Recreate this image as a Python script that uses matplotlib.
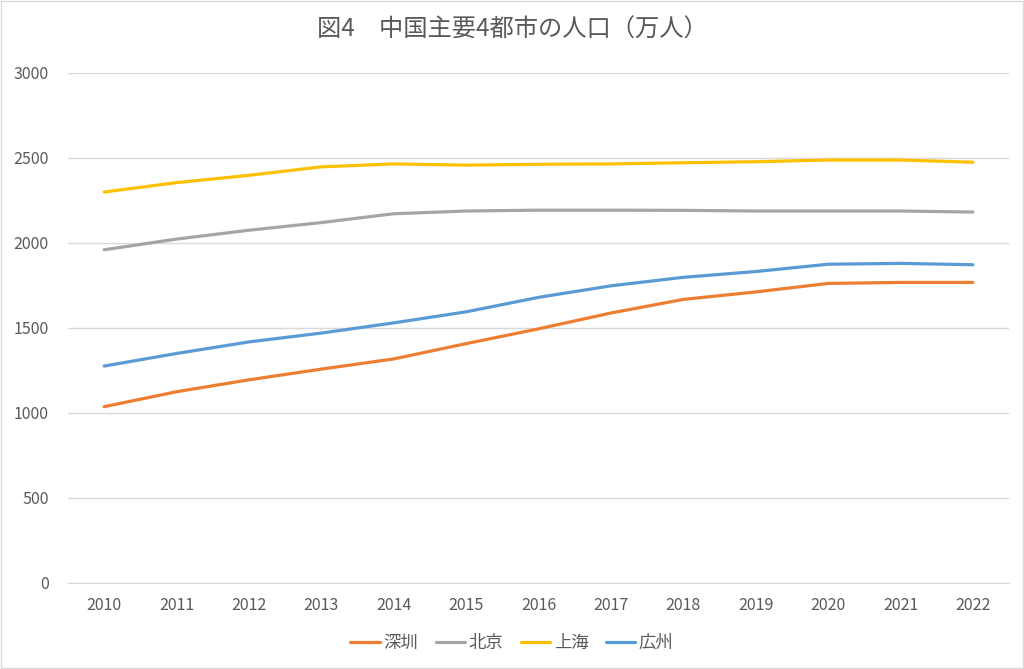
import matplotlib.pyplot as plt
from matplotlib.patches import Rectangle

plt.rcParams['font.family'] = ['Noto Sans CJK JP', 'DejaVu Sans']

years = [2010, 2011, 2012, 2013, 2014, 2015, 2016, 2017, 2018, 2019, 2020, 2021, 2022]
shenzhen = [1037, 1125, 1195, 1258, 1318, 1408, 1495, 1588, 1668, 1712, 1762, 1768, 1768]
beijing = [1960, 2023, 2075, 2120, 2172, 2188, 2193, 2193, 2192, 2188, 2188, 2188, 2182]
shanghai = [2300, 2355, 2398, 2448, 2465, 2458, 2463, 2465, 2472, 2478, 2488, 2488, 2475]
guangzhou = [1276, 1350, 1418, 1470, 1530, 1595, 1680, 1748, 1798, 1832, 1875, 1880, 1872]

series = [("深圳", shenzhen, "#ED7D31"),
          ("北京", beijing, "#A5A5A5"),
          ("上海", shanghai, "#FFC000"),
          ("広州", guangzhou, "#5B9BD5")]

text_color = "#595959"

fig = plt.figure(figsize=(10.24, 6.69), dpi=100)
ax = fig.add_axes([0.0664, 0.1286, 0.919, 0.7623])

x = list(range(len(years)))
for name, vals, col in series:
    ax.plot(x, vals, color=col, linewidth=2.3, label=name, solid_capstyle='round')

ax.set_xlim(-0.5, len(years) - 0.5)
ax.set_ylim(0, 3000)
ax.set_yticks(range(0, 3001, 500))
ax.set_xticks(x)
ax.set_xticklabels([str(y) for y in years])
ax.grid(axis='y', color="#D9D9D9", linewidth=1)
ax.set_axisbelow(True)
for s in ['top', 'right', 'left']:
    ax.spines[s].set_visible(False)
ax.spines['bottom'].set_color("#D9D9D9")
ax.tick_params(length=0, colors=text_color, labelsize=11.5)
ax.tick_params(axis='y', pad=14)
ax.tick_params(axis='x', pad=10)

fig.suptitle("図4　中国主要4都市の人口（万人）", y=0.975, fontsize=17.5, color=text_color)

leg = fig.legend(loc='center', bbox_to_anchor=(0.5, 0.039), ncol=4, frameon=False,
                 fontsize=12.5, handlelength=1.7, columnspacing=1.0, handletextpad=0.2)
for t in leg.get_texts():
    t.set_color(text_color)

fig.patches.append(Rectangle((0.001, 0.0015), 0.998, 0.997, transform=fig.transFigure,
                             fill=False, edgecolor="#D9D9D9", linewidth=1))

fig.savefig("out.png", dpi=100)
